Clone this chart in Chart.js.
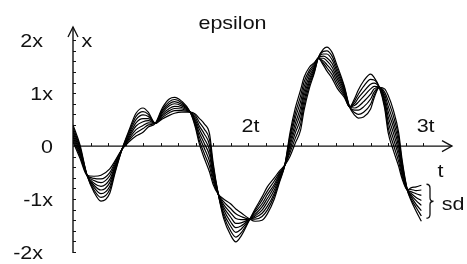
<!DOCTYPE html>
<html>
<head>
<meta charset="utf-8">
<title>epsilon</title>
<script src="https://cdn.jsdelivr.net/npm/chart.js"></script>
<style>
  html, body { margin: 0; padding: 0; background: #fff; }
</style>
</head>
<body>
<canvas id="chart" width="467" height="264"></canvas>
<script>
// time axis (units of t)
const tValues = [
  1.00, 1.04, 1.08, 1.12, 1.16, 1.21, 1.24, 1.28,
  1.32, 1.36, 1.40, 1.43, 1.47,
  1.51, 1.55, 1.58, 1.62, 1.67,
  1.70, 1.72, 1.75, 1.78, 1.80, 1.83,
  1.86, 1.90, 1.93, 1.96, 2.01,
  2.04, 2.08, 2.11, 2.15, 2.18, 2.21,
  2.24, 2.27, 2.30, 2.32, 2.35, 2.38, 2.40,
  2.43, 2.45, 2.48, 2.51, 2.55, 2.58,
  2.61, 2.63, 2.66, 2.70, 2.72, 2.75,
  2.78, 2.80, 2.83, 2.86, 2.88, 2.91,
  2.93, 2.96, 2.99
];

// one run per epsilon value (units of x)
const run1 = [0.08, -0.23, -0.55, -0.57, -0.55, -0.43, -0.28, -0.06,
  0.08, 0.19, 0.26, 0.36, 0.43,
  0.72, 0.89, 0.92, 0.85, 0.64,
  0.34, 0.06, -0.23, -0.49, -0.72, -0.91,
  -1.00, -1.09, -1.19, -1.26, -1.38,
  -1.42, -1.40, -1.28, -1.00, -0.68, -0.36,
  0.26, 0.72, 1.06, 1.30, 1.49, 1.58, 1.66,
  1.53, 1.42, 1.28, 1.09, 0.92, 0.74,
  0.91, 1.06, 1.23, 1.36, 1.30, 1.11,
  0.72, 0.26, -0.08, -0.38, -0.62, -0.83,
  -0.79, -0.77, -0.74];
const run2 = [0.12, -0.19, -0.55, -0.61, -0.62, -0.50, -0.31, -0.06,
  0.11, 0.25, 0.33, 0.40, 0.43,
  0.69, 0.84, 0.88, 0.82, 0.64,
  0.38, 0.12, -0.14, -0.39, -0.66, -0.91,
  -1.05, -1.18, -1.28, -1.33, -1.38,
  -1.38, -1.33, -1.21, -0.94, -0.65, -0.36,
  0.20, 0.62, 0.95, 1.21, 1.43, 1.56, 1.66,
  1.57, 1.48, 1.35, 1.15, 0.95, 0.74,
  0.86, 0.98, 1.13, 1.26, 1.25, 1.11,
  0.77, 0.36, 0.03, -0.29, -0.57, -0.83,
  -0.82, -0.84, -0.83];
const run3 = [0.17, -0.16, -0.55, -0.65, -0.69, -0.56, -0.35, -0.06,
  0.14, 0.31, 0.39, 0.44, 0.43,
  0.66, 0.80, 0.84, 0.79, 0.64,
  0.42, 0.19, -0.04, -0.29, -0.60, -0.91,
  -1.10, -1.26, -1.37, -1.39, -1.38,
  -1.35, -1.27, -1.14, -0.89, -0.62, -0.36,
  0.14, 0.53, 0.84, 1.12, 1.38, 1.53, 1.66,
  1.61, 1.54, 1.42, 1.21, 0.98, 0.74,
  0.81, 0.91, 1.03, 1.17, 1.19, 1.11,
  0.82, 0.46, 0.14, -0.19, -0.52, -0.83,
  -0.86, -0.90, -0.93];
const run4 = [0.21, -0.12, -0.55, -0.70, -0.76, -0.63, -0.38, -0.06,
  0.17, 0.38, 0.46, 0.48, 0.43,
  0.63, 0.76, 0.80, 0.76, 0.64,
  0.45, 0.26, 0.05, -0.18, -0.54, -0.91,
  -1.15, -1.34, -1.46, -1.45, -1.38,
  -1.32, -1.21, -1.06, -0.83, -0.59, -0.36,
  0.07, 0.43, 0.73, 1.03, 1.32, 1.50, 1.66,
  1.66, 1.61, 1.49, 1.27, 1.01, 0.74,
  0.77, 0.83, 0.94, 1.08, 1.13, 1.11,
  0.87, 0.56, 0.25, -0.10, -0.47, -0.83,
  -0.89, -0.97, -1.03];
const run5 = [0.26, -0.09, -0.55, -0.74, -0.83, -0.69, -0.41, -0.06,
  0.20, 0.44, 0.52, 0.52, 0.43,
  0.60, 0.71, 0.75, 0.73, 0.64,
  0.49, 0.33, 0.14, -0.08, -0.48, -0.91,
  -1.20, -1.43, -1.54, -1.51, -1.38,
  -1.29, -1.15, -0.99, -0.77, -0.56, -0.36,
  0.01, 0.34, 0.63, 0.95, 1.26, 1.48, 1.66,
  1.70, 1.67, 1.56, 1.33, 1.04, 0.74,
  0.72, 0.75, 0.84, 0.98, 1.08, 1.11,
  0.92, 0.66, 0.36, -0.01, -0.42, -0.83,
  -0.92, -1.03, -1.12];
const run6 = [0.30, -0.05, -0.55, -0.78, -0.90, -0.76, -0.44, -0.06,
  0.24, 0.50, 0.59, 0.56, 0.43,
  0.57, 0.67, 0.71, 0.70, 0.64,
  0.53, 0.39, 0.23, 0.02, -0.42, -0.91,
  -1.26, -1.51, -1.63, -1.57, -1.38,
  -1.25, -1.09, -0.92, -0.72, -0.53, -0.36,
  -0.06, 0.25, 0.52, 0.86, 1.21, 1.45, 1.66,
  1.74, 1.74, 1.63, 1.39, 1.07, 0.74,
  0.68, 0.68, 0.74, 0.89, 1.02, 1.11,
  0.97, 0.76, 0.46, 0.08, -0.37, -0.83,
  -0.95, -1.10, -1.22];
const run7 = [0.35, -0.02, -0.55, -0.83, -0.97, -0.82, -0.48, -0.06,
  0.27, 0.56, 0.65, 0.60, 0.43,
  0.54, 0.63, 0.67, 0.67, 0.64,
  0.57, 0.46, 0.32, 0.12, -0.36, -0.91,
  -1.31, -1.60, -1.72, -1.64, -1.38,
  -1.22, -1.02, -0.85, -0.66, -0.50, -0.36,
  -0.12, 0.15, 0.41, 0.77, 1.15, 1.42, 1.66,
  1.79, 1.80, 1.70, 1.45, 1.10, 0.74,
  0.63, 0.60, 0.64, 0.79, 0.96, 1.11,
  1.02, 0.86, 0.57, 0.17, -0.31, -0.83,
  -0.99, -1.16, -1.32];
const run8 = [0.40, 0.02, -0.55, -0.87, -1.04, -0.89, -0.51, -0.06,
  0.30, 0.62, 0.72, 0.64, 0.43,
  0.51, 0.58, 0.62, 0.64, 0.64,
  0.60, 0.53, 0.42, 0.23, -0.30, -0.91,
  -1.36, -1.68, -1.81, -1.70, -1.38,
  -1.19, -0.96, -0.77, -0.60, -0.47, -0.36,
  -0.19, 0.06, 0.30, 0.68, 1.09, 1.40, 1.66,
  1.83, 1.87, 1.77, 1.51, 1.13, 0.74,
  0.58, 0.53, 0.55, 0.70, 0.91, 1.11,
  1.08, 0.96, 0.68, 0.26, -0.26, -0.83,
  -1.02, -1.23, -1.42];

const runs = [run1, run2, run3, run4, run5, run6, run7, run8];

const yTickValues = [-2, -1, 0, 1, 2];
const yTickLabels = ['-2x', '-1x', '0', '1x', '2x'];
const xTickValues = [2, 3];
const xTickLabels = ['2t', '3t'];

const FONT = '18.6px "Liberation Sans", Arial, sans-serif';
const STRETCH = 1.155; // text in the reference is a bit wide
const INK = '#111';

function drawText(ctx, text, x, y, align) {
    ctx.save();
    ctx.translate(x, y);
    ctx.scale(STRETCH, 1);
    ctx.font = FONT;
    ctx.fillStyle = INK;
    ctx.textAlign = align;
    ctx.textBaseline = 'alphabetic';
    ctx.fillText(text, 0, 0);
    ctx.restore();
}

function drawBrace(ctx, x, yTop, yBot) {
    const ym = (yTop + yBot) / 2, w = 3.5;
    ctx.beginPath();
    ctx.moveTo(x - w, yTop);
    ctx.quadraticCurveTo(x, yTop, x, yTop + 4);
    ctx.lineTo(x, ym - 3.5);
    ctx.quadraticCurveTo(x, ym, x + w, ym);
    ctx.quadraticCurveTo(x, ym, x, ym + 3.5);
    ctx.lineTo(x, yBot - 4);
    ctx.quadraticCurveTo(x, yBot, x - w, yBot);
    ctx.stroke();
}

// axes crossing at (1t, 0) with arrow heads, drawn under the runs
const crossAxes = {
    id: 'crossAxes',
    beforeDatasetsDraw(chart) {
        const ctx = chart.ctx;
        const xs = chart.scales.x, ys = chart.scales.y;
        const x0 = xs.getPixelForValue(xs.min);
        const xEnd = xs.getPixelForValue(xs.max);
        const y0 = ys.getPixelForValue(0);
        const yTop = ys.getPixelForValue(ys.max);
        const yBot = ys.getPixelForValue(ys.min);

        ctx.save();
        ctx.strokeStyle = INK;
        ctx.lineWidth = 1.4;
        ctx.beginPath();
        ctx.moveTo(x0, yBot); ctx.lineTo(x0, yTop);
        ctx.moveTo(x0, y0); ctx.lineTo(xEnd, y0);
        ctx.stroke();

        // arrow heads
        ctx.lineWidth = 1.3;
        ctx.beginPath();
        ctx.moveTo(x0 - 5, yTop + 10); ctx.lineTo(x0, yTop); ctx.lineTo(x0 + 5, yTop + 10);
        ctx.moveTo(xEnd - 10, y0 - 5.5); ctx.lineTo(xEnd, y0); ctx.lineTo(xEnd - 10, y0 + 5.5);
        ctx.stroke();

        // small ticks
        ctx.lineWidth = 1;
        ctx.beginPath();
        for (let i = -10; i <= 10; i++) {
            if (i === 0) continue;
            const y = Math.round(ys.getPixelForValue(i * 0.2)) + 0.5;
            ctx.moveTo(x0, y); ctx.lineTo(x0 + 3, y);
        }
        for (let i = 11; i <= 30; i++) {
            const x = Math.round(xs.getPixelForValue(i * 0.1)) + 0.5;
            ctx.moveTo(x, y0); ctx.lineTo(x, y0 - 3);
        }
        ctx.stroke();
        ctx.restore();
    },
    afterDraw(chart) {
        const ctx = chart.ctx;
        const xs = chart.scales.x, ys = chart.scales.y;
        const x0 = xs.getPixelForValue(xs.min);
        const xEnd = xs.getPixelForValue(xs.max);
        const y0 = ys.getPixelForValue(0);

        yTickValues.forEach((v, i) => {
            const gap = Math.abs(v) === 2 ? 30 : 20;
            drawText(ctx, yTickLabels[i], x0 - gap, ys.getPixelForValue(v) + 6.7, 'right');
        });
        xTickValues.forEach((v, i) => {
            drawText(ctx, xTickLabels[i], xs.getPixelForValue(v) + 2.5, y0 - 14.5, 'center');
        });

        drawText(ctx, 'epsilon', chart.width / 2 - 1, 28.5, 'center');
        drawText(ctx, 'x', x0 + 8.4, ys.getPixelForValue(2) + 7, 'left');
        drawText(ctx, 't', xEnd - 14.5, y0 + 31, 'left');

        // spread marker at the end of the runs
        const lastIdx = tValues.length - 1;
        const ends = runs.map(r => r[lastIdx]);
        const yA = ys.getPixelForValue(Math.max(...ends));
        const yB = ys.getPixelForValue(Math.min(...ends));
        ctx.save();
        ctx.strokeStyle = INK;
        ctx.lineWidth = 1.3;
        drawBrace(ctx, 430, yA - 1, yB - 3);
        ctx.restore();
        drawText(ctx, 'sd', 441.7, (yA + yB) / 2 + 7, 'left');
    }
};

const datasets = runs.map((run, k) => ({
    label: 'run ' + (k + 1),
    data: run.map((v, i) => ({ x: tValues[i], y: v })),
    borderColor: '#000',
    borderWidth: 1.2,
    pointRadius: 0,
    fill: false,
    cubicInterpolationMode: 'monotone'
}));

new Chart(document.getElementById('chart'), {
    type: 'line',
    data: { datasets: datasets },
    options: {
        responsive: false,
        animation: false,
        events: [],
        layout: { padding: { left: 73, right: 15, top: 27, bottom: 11 } },
        plugins: {
            legend: { display: false },
            tooltip: { enabled: false }
        },
        scales: {
            x: { type: 'linear', display: false, min: 1, max: 3.165 },
            y: { type: 'linear', display: false, min: -2.02, max: 2.25 }
        }
    },
    plugins: [crossAxes]
});
</script>
</body>
</html>
